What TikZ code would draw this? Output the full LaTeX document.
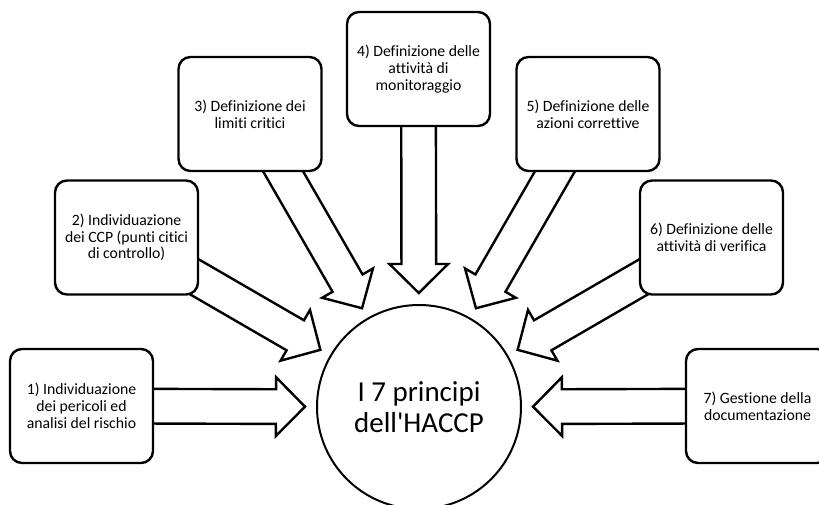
\documentclass[tikz,border=0pt]{standalone}
\usepackage{fontspec}
% Plain Carlito: no ti/tt ligatures and a straight apostrophe
\newfontfamily\labelfont{Carlito}[Ligatures=NoCommon]
\usetikzlibrary{calc}
\pgfdeclarelayer{arrows}
\pgfsetlayers{arrows,main}

\tikzset{
  stepbox/.style={draw, line width=1.8pt, rounded corners=9pt, fill=white,
    minimum width=107.25pt, minimum height=85.5pt, align=center,
    inner sep=0pt, font=\labelfont\fontsize{11.8}{12.6}\selectfont},
  hub/.style={draw, circle, line width=1.5pt, fill=white, minimum size=153pt,
    align=center, inner sep=0pt, font=\labelfont\fontsize{21.7}{23.5}\selectfont},
  blockarrow/.style={draw, line width=1.8pt, fill=white, line join=miter},
}

% Block arrow from the centre of a box to a point just short of the hub
\newcommand\hacarrow[2]{%
  \begin{pgfonlayer}{arrows}
  \coordinate (tip) at ($(#2.center)!85.5pt!(#1.center)$);
  \coordinate (hb)  at ($(#2.center)!107.25pt!(#1.center)$);
  \path[blockarrow]
    ($(#1.center)!13pt!-90:(#2.center)$) --
    ($(hb)!13pt!90:(#1.center)$) --
    ($(hb)!22pt!90:(#1.center)$) --
    (tip) --
    ($(hb)!22pt!-90:(#1.center)$) --
    ($(hb)!13pt!-90:(#1.center)$) --
    ($(#1.center)!13pt!90:(#2.center)$) -- cycle;
  \end{pgfonlayer}%
}

\begin{document}
\begin{tikzpicture}[x=0.75pt, y=-0.75pt]
  \useasboundingbox (0,0) rectangle (819,505);
  \clip (0,0) rectangle (819,505);

  \node[hub] (hub) at (419,407) {I 7 principi\\dell'HACCP};

  \node[stepbox] (p1) at (81.5,406)  {1) Individuazione\\dei pericoli ed\\analisi del rischio};
  \node[stepbox] (p2) at (126.5,237.5) {2) Individuazione\\dei CCP (punti citici\\di controllo)};
  \node[stepbox] (p3) at (250,114)   {3) Definizione dei\\limiti critici};
  \node[stepbox] (p4) at (418.5,69)  {4) Definizione delle\\attività di\\monitoraggio};
  \node[stepbox] (p5) at (588,114)   {5) Definizione delle\\azioni correttive};
  \node[stepbox] (p6) at (711.5,237.5) {6) Definizione delle\\attività di verifica};
  \node[stepbox] (p7) at (757.5,406) {7) Gestione della\\documentazione};

  \hacarrow{p1}{hub}
  \hacarrow{p2}{hub}
  \hacarrow{p3}{hub}
  \hacarrow{p4}{hub}
  \hacarrow{p5}{hub}
  \hacarrow{p6}{hub}
  \hacarrow{p7}{hub}
\end{tikzpicture}
\end{document}
